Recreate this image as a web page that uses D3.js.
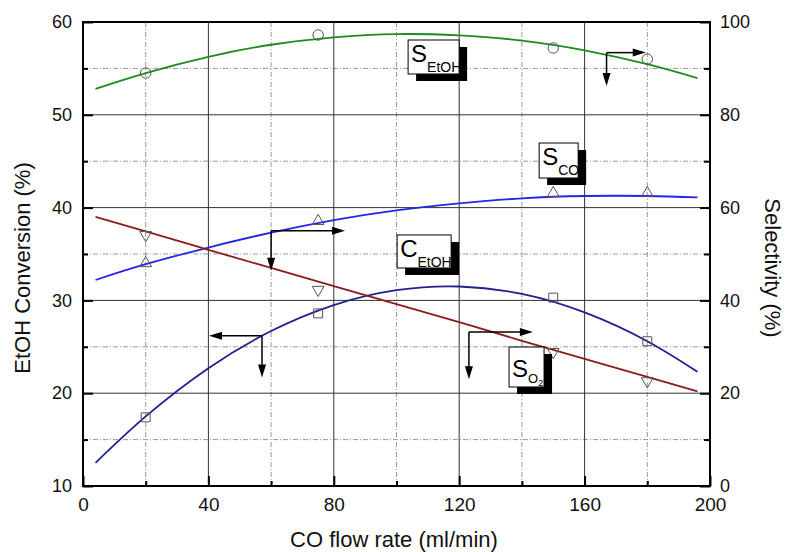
<!DOCTYPE html>
<html>
<head>
<meta charset="utf-8">
<script src="https://cdn.jsdelivr.net/npm/d3@7"></script>
<style>
  body { margin: 0; background: #fff; }
  svg { font-family: "Liberation Sans", Arial, sans-serif; }
</style>
</head>
<body>
<div id="chart"></div>
<script>
// measured points (CO flow rate, ml/min)
var flow = [20, 75, 150, 180];
var convEtOH = [17.4, 28.6, 30.3, 25.6];   // left axis, %
var selEtOH = [89.0, 97.2, 94.4, 92.0];    // right axis, %
var selCO = [48.0, 57.1, 63.1, 63.1];
var selO2 = [54.1, 42.3, 28.9, 22.6];

// fitted curves
var fitFlow = [4, 20, 40, 60, 80, 100, 120, 140, 160, 180, 196];
var fitConvEtOH = [12.5, 17.5, 22.7, 26.7, 29.5, 31.1, 31.5, 30.7, 28.7, 25.6, 22.3];
var fitSelEtOH = [85.6, 89.0, 92.5, 95.1, 96.7, 97.4, 97.1, 96.0, 93.9, 90.9, 87.9];
var fitSelCO = [44.4, 47.8, 51.4, 54.6, 57.3, 59.4, 60.9, 62.0, 62.5, 62.5, 62.2];
var fitSelO2 = [58.0, 54.9, 50.9, 47.0, 43.1, 39.2, 35.3, 31.3, 27.4, 23.5, 20.4];

var xTicks = [0, 40, 80, 120, 160, 200];
var xMinor = [20, 60, 100, 140, 180];
var yLeftTicks = [10, 20, 30, 40, 50, 60];
var yLeftMinor = [15, 25, 35, 45, 55];
var yRightTicks = [0, 20, 40, 60, 80, 100];
var yRightMinor = [10, 30, 50, 70, 90];

function init(){
	var w = 786, h = 552;
	var m = {left: 83, right: 76, top: 22, bottom: 66};
	var iw = w - m.left - m.right;   // 627
	var ih = h - m.top - m.bottom;   // 464

	var x = d3.scaleLinear().domain([0, 200]).range([0, iw]);
	var yL = d3.scaleLinear().domain([10, 60]).range([ih, 0]);
	var yR = d3.scaleLinear().domain([0, 100]).range([ih, 0]);

	var svg = d3.select("#chart").append("svg")
		.attr("width", w).attr("height", h);
	var g = svg.append("g").attr("transform", "translate(" + m.left + "," + m.top + ")");

	// grid: dashed at minor, solid at major
	var grid = g.append("g");
	grid.selectAll(".vmin").data(xMinor).enter().append("line")
		.attr("x1", function(d){ return x(d); }).attr("x2", function(d){ return x(d); })
		.attr("y1", 0).attr("y2", ih)
		.attr("stroke", "#999").attr("stroke-width", 1).attr("stroke-dasharray", "5,2,1,2");
	grid.selectAll(".hmin").data(yLeftMinor).enter().append("line")
		.attr("y1", function(d){ return yL(d); }).attr("y2", function(d){ return yL(d); })
		.attr("x1", 0).attr("x2", iw)
		.attr("stroke", "#999").attr("stroke-width", 1).attr("stroke-dasharray", "5,2,1,2");
	grid.selectAll(".vmaj").data(xTicks.slice(1, -1)).enter().append("line")
		.attr("x1", function(d){ return x(d); }).attr("x2", function(d){ return x(d); })
		.attr("y1", 0).attr("y2", ih)
		.attr("stroke", "#333").attr("stroke-width", 1);
	grid.selectAll(".hmaj").data(yLeftTicks.slice(1, -1)).enter().append("line")
		.attr("y1", function(d){ return yL(d); }).attr("y2", function(d){ return yL(d); })
		.attr("x1", 0).attr("x2", iw)
		.attr("stroke", "#333").attr("stroke-width", 1);

	// axes
	function style(sel, size){
		sel.select(".domain").remove();
		sel.selectAll(".tick line").attr("stroke", "#000").attr("stroke-width", 2);
		sel.selectAll(".tick text").attr("font-size", size).attr("fill", "#111")
			.attr("font-family", "Liberation Sans, Arial, sans-serif");
	}
	g.append("g").attr("transform", "translate(0," + ih + ")")
		.call(d3.axisBottom(x).tickValues(xTicks).tickSize(-10).tickPadding(12))
		.call(style, 19);
	g.append("g").attr("transform", "translate(0," + ih + ")")
		.call(d3.axisBottom(x).tickValues(xMinor).tickSize(-5).tickFormat(""))
		.call(style, 19);
	g.append("g")
		.call(d3.axisLeft(yL).tickValues(yLeftTicks).tickSize(-10).tickPadding(11))
		.call(style, 18);
	g.append("g")
		.call(d3.axisLeft(yL).tickValues(yLeftMinor).tickSize(-5).tickFormat(""))
		.call(style, 18);
	g.append("g").attr("transform", "translate(" + iw + ",0)")
		.call(d3.axisRight(yR).tickValues(yRightTicks).tickSize(-10).tickPadding(10))
		.call(style, 18);
	g.append("g").attr("transform", "translate(" + iw + ",0)")
		.call(d3.axisRight(yR).tickValues(yRightMinor).tickSize(-6).tickFormat(""))
		.call(style, 18);

	g.append("rect").attr("width", iw).attr("height", ih)
		.attr("fill", "none").attr("stroke", "#000").attr("stroke-width", 2);

	// fitted curves
	var series = [
		{fit: fitSelEtOH, pts: selEtOH, y: yR, color: "#1f8a1f", sym: d3.symbolCircle, size: 85, rot: 0},
		{fit: fitSelCO, pts: selCO, y: yR, color: "#2525e6", sym: d3.symbolTriangle, size: 60, rot: 0},
		{fit: fitConvEtOH, pts: convEtOH, y: yL, color: "#202090", sym: d3.symbolSquare, size: 80, rot: 0},
		{fit: fitSelO2, pts: selO2, y: yR, color: "#8b1c1c", sym: d3.symbolTriangle, size: 60, rot: 180}
	];
	series.forEach(function(s){
		var line = d3.line()
			.x(function(d, i){ return x(fitFlow[i]); })
			.y(function(d){ return s.y(d); })
			.curve(d3.curveNatural);
		g.append("path").datum(s.fit)
			.attr("d", line)
			.attr("fill", "none").attr("stroke", s.color).attr("stroke-width", 1.8);
	});
	series.forEach(function(s){
		g.selectAll(null).data(s.pts).enter().append("path")
			.attr("d", d3.symbol().type(s.sym).size(s.size))
			.attr("transform", function(d, i){
				return "translate(" + x(flow[i]) + "," + s.y(d) + ") rotate(" + s.rot + ")";
			})
			.attr("fill", "none").attr("stroke", "#555").attr("stroke-width", 1);
	});

	// axis arrows (corner in flow / left-axis units)
	var arrows = [
		{cx: 167, cy: 56.7, hx: 179.5, vy: 53.1},
		{cx: 60, cy: 37.5, hx: 83.6, vy: 33.2},
		{cx: 57.1, cy: 26.2, hx: 40.2, vy: 21.7},
		{cx: 123.1, cy: 26.6, hx: 143.5, vy: 21.5}
	];
	arrows.forEach(function(a){
		var cx = x(a.cx), cy = yL(a.cy), hx = x(a.hx), vy = yL(a.vy);
		var dir = hx > cx ? 1 : -1;
		g.append("line").attr("x1", cx).attr("y1", cy).attr("x2", hx - dir * 8).attr("y2", cy)
			.attr("stroke", "#000").attr("stroke-width", 1.5);
		g.append("line").attr("x1", cx).attr("y1", cy).attr("x2", cx).attr("y2", vy - 8)
			.attr("stroke", "#000").attr("stroke-width", 1.5);
		g.append("path")
			.attr("d", "M" + hx + "," + cy + "L" + (hx - dir * 13) + "," + (cy - 4) + "L" + (hx - dir * 13) + "," + (cy + 4) + "Z")
			.attr("fill", "#000");
		g.append("path")
			.attr("d", "M" + cx + "," + vy + "L" + (cx - 4) + "," + (vy - 13) + "L" + (cx + 4) + "," + (vy - 13) + "Z")
			.attr("fill", "#000");
	});

	// labels with drop shadow boxes
	var labels = [
		{main: "S", sub: "EtOH", sub2: "", bx: 103.7, by: 58.06, bw: 51, bh: 34, base: 22},
		{main: "S", sub: "CO", sub2: "", bx: 145.5, by: 46.96, bw: 39, bh: 35, base: 22},
		{main: "C", sub: "EtOH", sub2: "", bx: 100.2, by: 37.05, bw: 54, bh: 33, base: 22},
		{main: "S", sub: "O", sub2: "2", bx: 135.9, by: 24.98, bw: 35, bh: 40, base: 30}
	];
	labels.forEach(function(l){
		var bx = x(l.bx), by = yL(l.by);
		g.append("rect").attr("x", bx + 8).attr("y", by + 7).attr("width", l.bw).attr("height", l.bh)
			.attr("fill", "#000");
		g.append("rect").attr("x", bx).attr("y", by).attr("width", l.bw).attr("height", l.bh)
			.attr("fill", "#fff").attr("stroke", "#000").attr("stroke-width", 1);
		var t = g.append("text").attr("x", bx + 3).attr("y", by + l.base).attr("fill", "#000");
		t.append("tspan").attr("font-size", 24).text(l.main);
		t.append("tspan").attr("font-size", l.sub2 ? 13 : 14).attr("dy", l.sub2 ? 6 : 10).text(l.sub);
		if (l.sub2) t.append("tspan").attr("font-size", 9).attr("dy", 3).text(l.sub2);
	});

	// axis titles
	svg.append("text").attr("transform", "translate(30,268) rotate(-90)")
		.attr("text-anchor", "middle").attr("font-size", 22).attr("fill", "#111")
		.text("EtOH Conversion (%)");
	svg.append("text").attr("transform", "translate(765,268) rotate(90)")
		.attr("text-anchor", "middle").attr("font-size", 22).attr("fill", "#111")
		.text("Selectivity (%)");
	svg.append("text").attr("x", 394).attr("y", 547)
		.attr("text-anchor", "middle").attr("font-size", 22).attr("fill", "#111")
		.text("CO flow rate (ml/min)");
}

window.onload = init;
</script>
</body>
</html>
